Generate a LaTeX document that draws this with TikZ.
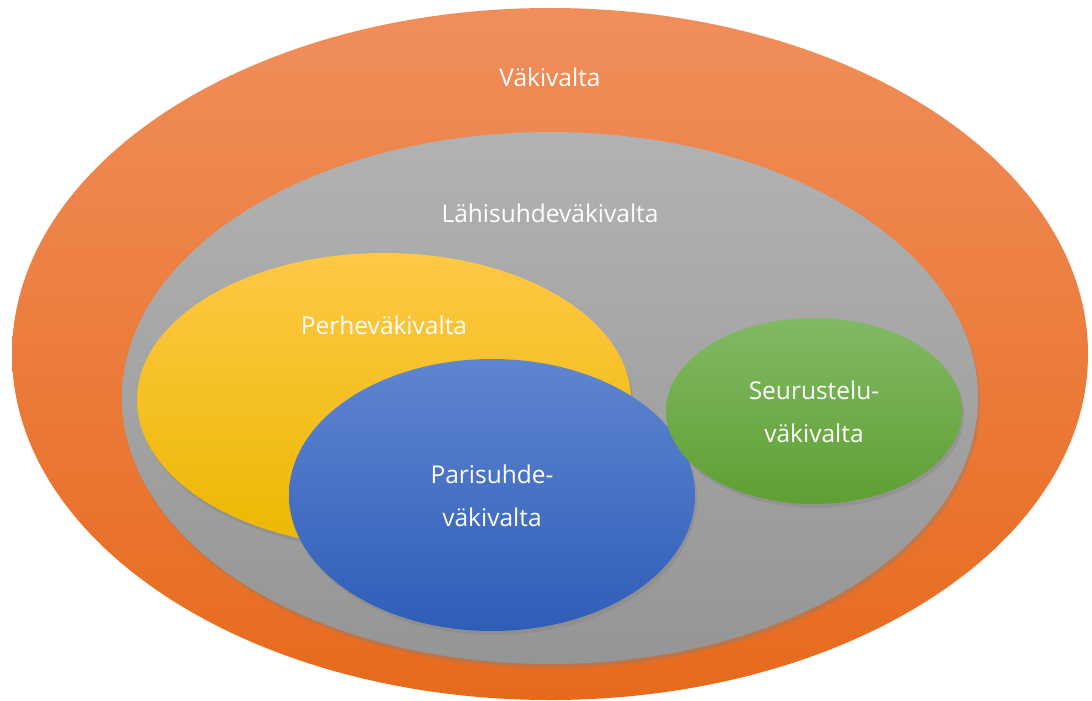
\documentclass[tikz,border=0pt]{standalone}
\usepackage{fontspec}
\setmainfont{Open Sans}
\usetikzlibrary{shapes.geometric,shadows}
\definecolor{vtop}{HTML}{F08E5B}
\definecolor{vbot}{HTML}{E76A1C}
\definecolor{ltop}{HTML}{B2B2B2}
\definecolor{lbot}{HTML}{959595}
\definecolor{ptop}{HTML}{FFC846}
\definecolor{pmid}{HTML}{FFC000}
\definecolor{pbot}{HTML}{EBB800}
\definecolor{patop}{HTML}{5F85D0}
\definecolor{pabot}{HTML}{2E5DB9}
\definecolor{stop}{HTML}{82B964}
\definecolor{sbot}{HTML}{5EA032}

\begin{document}
\begin{tikzpicture}[x=1pt,y=-1pt,
  blob/.style={ellipse,inner sep=0pt,draw=none},
  shd/.style={drop shadow={opacity=0.35,shadow xshift=2pt,shadow yshift=-4pt}},
  lbl/.style={text=white,align=center,font=\fontsize{24.5}{43}\selectfont}]
\useasboundingbox (0,0) rectangle (1092,701);

\node[blob,minimum width=1076,minimum height=692,top color=vtop,bottom color=vbot] (V) at (550,354) {};
\node[blob,shd,minimum width=856,minimum height=532,top color=ltop,bottom color=lbot] (L) at (550,398) {};
\node[blob,shd,minimum width=494,minimum height=294,top color=ptop,middle color=pmid,bottom color=pbot] (P) at (384,400) {};
\node[blob,shd,minimum width=406,minimum height=272,top color=patop,bottom color=pabot] (Pa) at (492,495) {};
\node[blob,shd,minimum width=296,minimum height=186,top color=stop,bottom color=sbot] (S) at (814,411) {};

\node[lbl] (tV) at (550,77) {Väkivalta};
\node[lbl] (tL) at (550,213) {Lähisuhdeväkivalta};
\node[lbl] (tP) at (384,325) {Perheväkivalta};
\node[lbl] (tPa) at (492,496) {Parisuhde-\\väkivalta};
\node[lbl] (tS) at (814,412) {Seurustelu-\\väkivalta};
\end{tikzpicture}
\end{document}
